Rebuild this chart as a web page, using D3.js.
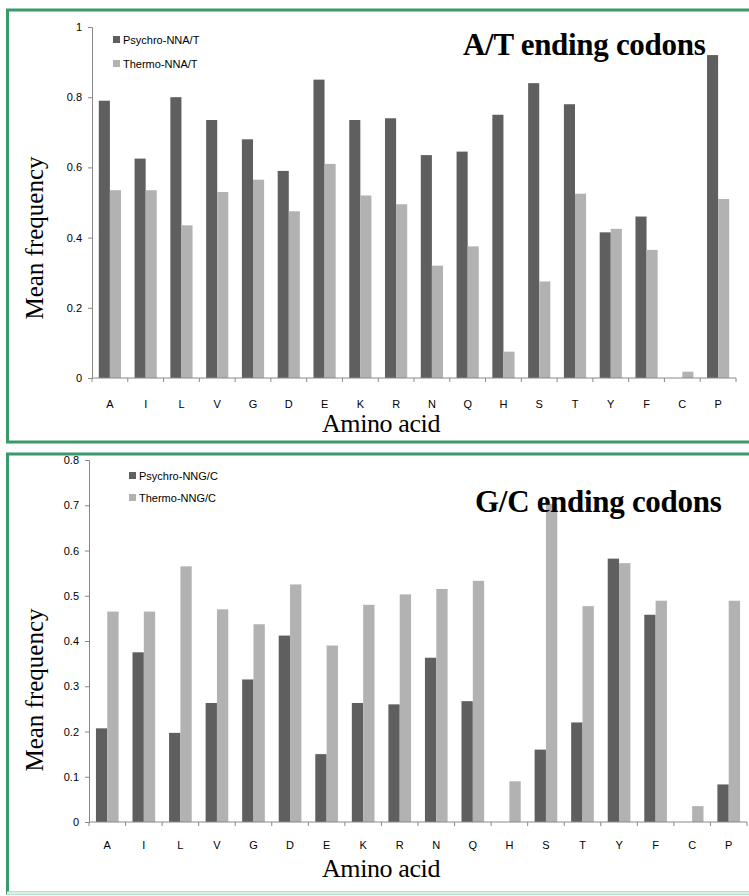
<!DOCTYPE html>
<html>
<head>
<meta charset="utf-8">
<script src="https://cdn.jsdelivr.net/npm/d3@7"></script>
<style>
  body { margin: 0; background: #fff; }
  svg { display: block; }
  .tick text { font-family: "Liberation Sans Narrow", "Liberation Sans", sans-serif; font-size: 11px; fill: #000; }
  .legend text { font-family: "Liberation Sans Narrow", "Liberation Sans", sans-serif; font-size: 11px; fill: #000; }
  .domain, .tick line { stroke: #888; }
</style>
</head>
<body>
<div id="graphicContainer"></div>
<script>
var aminoAcids = ["A", "I", "L", "V", "G", "D", "E", "K", "R", "N", "Q", "H", "S", "T", "Y", "F", "C", "P"]

var psychroAT = [0.79, 0.625, 0.80, 0.735, 0.68, 0.59, 0.85, 0.735, 0.74, 0.635, 0.645, 0.75, 0.84, 0.78, 0.415, 0.46, 0, 0.92]
var thermoAT = [0.535, 0.535, 0.435, 0.53, 0.565, 0.475, 0.61, 0.52, 0.495, 0.32, 0.375, 0.075, 0.275, 0.525, 0.425, 0.365, 0.018, 0.51]

var psychroGC = [0.207, 0.375, 0.197, 0.263, 0.315, 0.412, 0.15, 0.263, 0.26, 0.363, 0.267, 0, 0.16, 0.22, 0.582, 0.458, 0, 0.083]
var thermoGC = [0.465, 0.465, 0.565, 0.47, 0.437, 0.525, 0.39, 0.48, 0.503, 0.515, 0.533, 0.09, 0.703, 0.477, 0.572, 0.489, 0.035, 0.489]

var ticksAT = [0, 0.2, 0.4, 0.6, 0.8, 1]
var ticksGC = [0, 0.1, 0.2, 0.3, 0.4, 0.5, 0.6, 0.7, 0.8]

var dark = "#5f5f5f"
var light = "#b2b2b2"
var green = "#3a9a6c"

var svg = d3.select("#graphicContainer").append("svg")
  .attr("width", 749)
  .attr("height", 896)

// panel frames
svg.append("rect").attr("x", 7.5).attr("y", 10).attr("width", 760).attr("height", 432)
  .attr("fill", "none").attr("stroke", green).attr("stroke-width", 3)
svg.append("rect").attr("x", 7.5).attr("y", 454).attr("width", 760).attr("height", 439)
  .attr("fill", "none").attr("stroke", green).attr("stroke-width", 3)
svg.append("line").attr("x1", 7).attr("x2", 749).attr("y1", 893).attr("y2", 893)
  .attr("stroke", "#dcefe6").attr("stroke-width", 3)

function drawPanel(opts) {
  var g = svg.append("g")

  var x = d3.scaleBand().domain(aminoAcids).range([opts.left, opts.right]).paddingInner(0.38).paddingOuter(0.19)
  var xAxisScale = d3.scaleBand().domain(aminoAcids).range([opts.left, opts.right])
  var y = d3.scaleLinear().domain([0, opts.max]).range([opts.bottom, opts.top])

  var bw = x.bandwidth() / 2

  var rows = aminoAcids.map(function (d, i) {
    return { aa: d, p: opts.psychro[i], t: opts.thermo[i] }
  })

  g.selectAll(".barP").data(rows).enter().append("rect")
    .attr("x", function (d) { return x(d.aa) })
    .attr("y", function (d) { return y(d.p) })
    .attr("width", bw)
    .attr("height", function (d) { return y(0) - y(d.p) })
    .attr("fill", dark)

  g.selectAll(".barT").data(rows).enter().append("rect")
    .attr("x", function (d) { return x(d.aa) + bw })
    .attr("y", function (d) { return y(d.t) })
    .attr("width", bw)
    .attr("height", function (d) { return y(0) - y(d.t) })
    .attr("fill", light)

  // y axis
  g.append("g")
    .attr("transform", "translate(" + opts.left + ",0)")
    .call(d3.axisLeft(y).tickValues(opts.ticks).tickSize(4).tickSizeOuter(4).tickPadding(6)
      .tickFormat(function (d) { return d3.format("")(+d.toFixed(1)) }))

  // x axis with ticks at band edges
  var xg = g.append("g").attr("transform", "translate(0," + opts.bottom + ")")
  xg.append("line").attr("x1", opts.left).attr("x2", opts.right).attr("y1", 0).attr("y2", 0).attr("stroke", "#888")
  xg.selectAll(".xt").data(aminoAcids.concat(["end"])).enter().append("line")
    .attr("x1", function (d, i) { return opts.left + i * xAxisScale.step() })
    .attr("x2", function (d, i) { return opts.left + i * xAxisScale.step() })
    .attr("y1", 0).attr("y2", 4).attr("stroke", "#888")
  xg.selectAll(".xl").data(aminoAcids).enter().append("text")
    .attr("x", function (d) { return xAxisScale(d) + xAxisScale.bandwidth() / 2 })
    .attr("y", opts.tickLabelDy)
    .attr("text-anchor", "middle")
    .style("font-family", "'Liberation Sans Narrow', 'Liberation Sans', sans-serif")
    .style("font-size", "11px")
    .text(function (d) { return d })

  // legend
  var legend = g.append("g").attr("class", "legend")
  opts.legend.forEach(function (l, i) {
    legend.append("rect").attr("x", opts.legX).attr("y", opts.legY + i * opts.legGap - 4)
      .attr("width", 7).attr("height", 7).attr("fill", i == 0 ? dark : light)
    legend.append("text").attr("x", opts.legX + 10).attr("y", opts.legY + i * opts.legGap + 3.5).text(l)
  })

  // titles
  g.append("text").attr("x", opts.titleX).attr("y", opts.titleY)
    .style("font-family", "'Liberation Serif', serif").style("font-weight", "bold").style("font-size", "31px")
    .style("letter-spacing", "-0.3px")
    .text(opts.title)

  g.append("text")
    .attr("transform", "translate(" + 43 + "," + opts.yLabelCenter + ") rotate(-90)")
    .attr("text-anchor", "middle")
    .style("font-family", "'Liberation Serif', serif").style("font-size", "25px")
    .text("Mean frequency")

  g.append("text").attr("x", 381).attr("y", opts.xLabelY)
    .attr("text-anchor", "middle")
    .style("font-family", "'Liberation Serif', serif").style("font-size", "26px")
    .style("letter-spacing", "-0.4px")
    .text("Amino acid")
}

drawPanel({
  left: 92, right: 736, top: 27, bottom: 378, max: 1,
  ticks: ticksAT, psychro: psychroAT, thermo: thermoAT,
  legend: ["Psychro-NNA/T", "Thermo-NNA/T"], legX: 113, legY: 40, legGap: 24,
  title: "A/T ending codons", titleX: 463, titleY: 55, xLabelY: 432, tickLabelDy: 30, yLabelCenter: 238
})

drawPanel({
  left: 89, right: 747, top: 460, bottom: 822, max: 0.8,
  ticks: ticksGC, psychro: psychroGC, thermo: thermoGC,
  legend: ["Psychro-NNG/C", "Thermo-NNG/C"], legX: 129, legY: 476, legGap: 22,
  title: "G/C ending codons", titleX: 475, titleY: 512, xLabelY: 877, tickLabelDy: 27, yLabelCenter: 690
})
</script>
</body>
</html>
